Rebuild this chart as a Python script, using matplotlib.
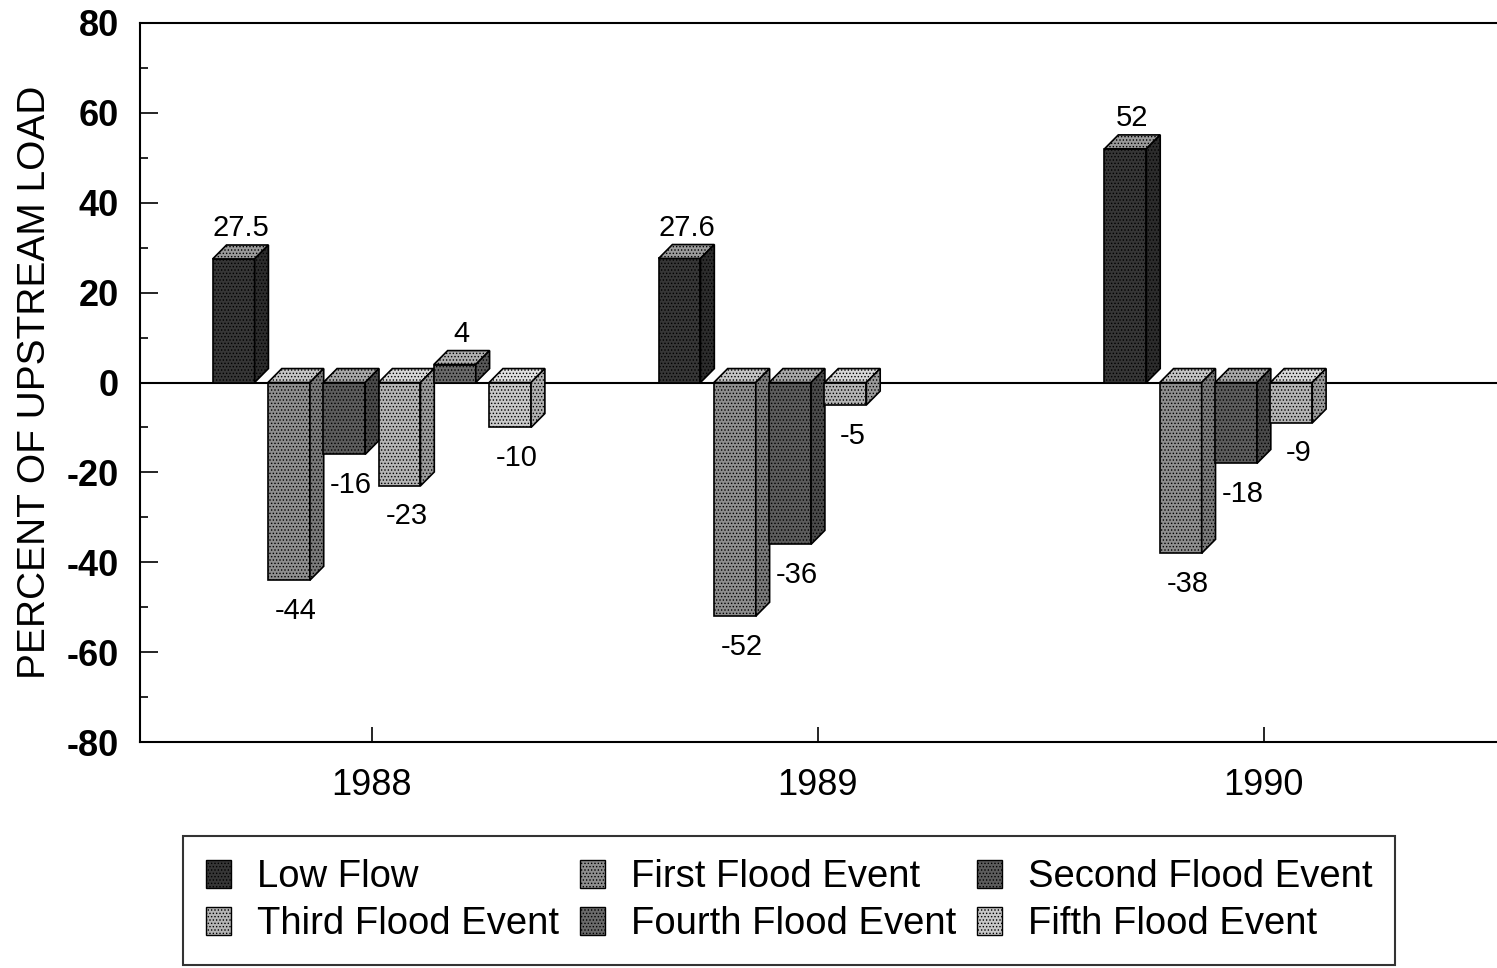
import numpy as np
import matplotlib
matplotlib.use("Agg")
import matplotlib.pyplot as plt
from matplotlib.patches import Polygon, Patch

plt.rcParams['font.family'] = ['Liberation Sans', 'DejaVu Sans']
plt.rcParams['axes.unicode_minus'] = False
plt.rcParams['hatch.linewidth'] = 0.6

# data (nan = no bar)
years = ['1988', '1989', '1990']
series = ['Low Flow', 'First Flood Event', 'Second Flood Event',
          'Third Flood Event', 'Fourth Flood Event', 'Fifth Flood Event']
low_flow = [27.5, 27.6, 52]
first_flood = [-44, -52, -38]
second_flood = [-16, -36, -18]
third_flood = [-23, -5, -9]
fourth_flood = [4, np.nan, np.nan]
fifth_flood = [-10, np.nan, np.nan]
values = [low_flow, first_flood, second_flood, third_flood, fourth_flood, fifth_flood]
labels = [['27.5', '27.6', '52'], ['-44', '-52', '-38'], ['-16', '-36', '-18'],
          ['-23', '-5', '-9'], ['4', '', ''], ['-10', '', '']]

# front / side / top shades for the stippled screens
front_c = ['#363636', '#8e8e8e', '#5c5c5c', '#b4b4b4', '#6a6a6a', '#c8c8c8']
side_c = ['#2c2c2c', '#7a7a7a', '#4a4a4a', '#9a9a9a', '#585858', '#b0b0b0']
top_c = ['#9a9a9a', '#c4c4c4', '#a8a8a8', '#d8d8d8', '#b0b0b0', '#e0e0e0']

fig = plt.figure(figsize=(14.97, 9.68), dpi=100)
ax = fig.add_axes([140/1497, 1-742/968, (1500-140)/1497, (742-23)/968])

x = np.arange(len(years))
stride = 0.124
width = 0.094
dx = 0.031   # depth in x (data units)
dy = 3.1     # depth in y (data units)

ax.axhline(0, color='black', lw=1.5, zorder=1)

for i, vals in enumerate(values):
    pos = x + (i - 2.5) * stride
    bars = ax.bar(pos, vals, width, color=front_c[i], edgecolor='black',
                  linewidth=1.2, hatch='.....', zorder=2 + i)
    for b, lab in zip(bars, labels[i]):
        h = b.get_height()
        if np.isnan(h):
            continue
        x0 = b.get_x()
        x1 = x0 + b.get_width()
        ytop = max(h, 0)
        ybot = min(h, 0)
        top = Polygon([[x0, ytop], [x1, ytop], [x1 + dx, ytop + dy], [x0 + dx, ytop + dy]],
                      closed=True, facecolor=top_c[i], edgecolor='black', lw=1.2,
                      hatch='.....', zorder=2 + i)
        side = Polygon([[x1, ytop], [x1 + dx, ytop + dy], [x1 + dx, ybot + dy], [x1, ybot]],
                       closed=True, facecolor=side_c[i], edgecolor='black', lw=1.2,
                       hatch='.....', zorder=2 + i)
        ax.add_patch(top)
        ax.add_patch(side)
        cx = x0 + b.get_width() / 2 + dx / 2
        if h >= 0:
            ax.annotate(lab, (cx, h + dy), xytext=(0, 12), textcoords='offset points',
                        ha='center', va='center', fontsize=21, zorder=20)
        else:
            ax.annotate(lab, (cx, h), xytext=(0, -22), textcoords='offset points',
                        ha='center', va='center', fontsize=21, zorder=20)

ax.set_xlim(-0.52, 2.53)
ax.set_ylim(-80, 80)
ax.set_yticks(np.arange(-80, 81, 20))
ax.set_yticks(np.arange(-70, 80, 20), minor=True)
ax.set_xticks(x)
ax.set_xticklabels(years, fontsize=26)
for t in ax.get_yticklabels():
    t.set_fontsize(26)
    t.set_fontweight('bold')
ax.tick_params(axis='y', which='major', direction='in', length=13, width=1.2, pad=15)
ax.tick_params(axis='y', which='minor', direction='in', length=6, width=1.2)
ax.tick_params(axis='x', direction='in', length=11, width=1.2, pad=19, top=False)
ax.spines['right'].set_visible(False)
for s in ['top', 'left', 'bottom']:
    ax.spines[s].set_linewidth(1.5)
ax.set_ylabel('PERCENT OF UPSTREAM LOAD', fontsize=28, labelpad=10)

# legend reads row by row, matplotlib fills column by column
handles = [Patch(facecolor=front_c[i], edgecolor='black', hatch='.....', label=series[i])
           for i in range(len(series))]
order = [0, 3, 1, 4, 2, 5]
leg = fig.legend(handles=[handles[k] for k in order], ncol=3, loc='lower left',
                 bbox_to_anchor=(183/1497, 3/968), fontsize=27.5,
                 frameon=True, fancybox=False, edgecolor='black',
                 handlelength=0.65, handleheight=0.75, handletextpad=0.68,
                 columnspacing=0.55, labelspacing=0.29, borderpad=0.6,
                 borderaxespad=0)
leg.get_frame().set_linewidth(1.5)

fig.savefig('out.png', dpi=100)
